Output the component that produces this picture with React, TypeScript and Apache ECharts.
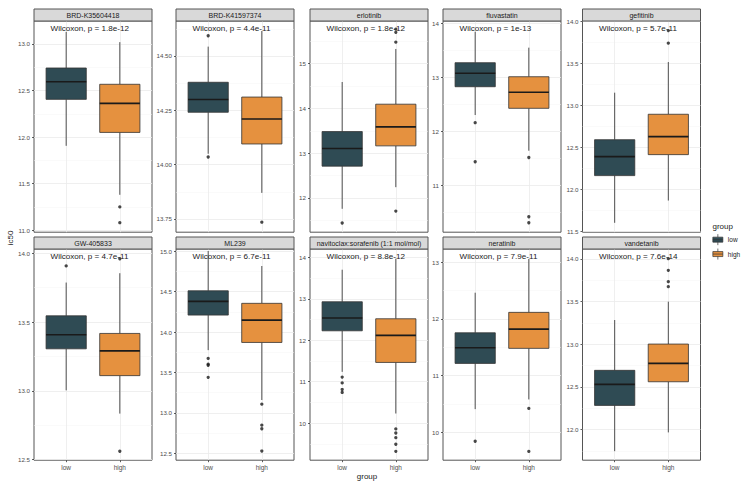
import React, { useEffect, useRef } from 'react';
import * as echarts from 'echarts';

// ---------- data ----------
const drugs = [
  'BRD-K35604418',
  'BRD-K41597374',
  'erlotinib',
  'fluvastatin',
  'gefitinib',
  'GW-405833',
  'ML239',
  'navitoclax:sorafenib (1:1 mol/mol)',
  'neratinib',
  'vandetanib',
];
const pLabels = ['1.8e-12', '4.4e-11', '1.8e-12', '1e-13', '5.7e-11', '4.7e-11', '6.7e-11', '8.8e-12', '7.9e-11', '7.6e-14'];
const groups = ['low', 'high'];

// [lower whisker, Q1, median, Q3, upper whisker]
const lowStats = [
  [11.906, 12.405, 12.595, 12.742, 13.13],
  [14.05, 14.241, 14.3, 14.379, 14.543],
  [11.757, 12.71, 13.103, 13.482, 14.59],
  [12.305, 12.828, 13.076, 13.272, 13.845],
  [11.6, 12.162, 12.388, 12.59, 13.15],
  [13.003, 13.305, 13.407, 13.545, 13.787],
  [13.776, 14.209, 14.378, 14.509, 15.0],
  [11.237, 12.227, 12.534, 12.927, 13.7],
  [10.407, 11.215, 11.49, 11.755, 12.463],
  [11.746, 12.283, 12.529, 12.694, 13.284],
];
const highStats = [
  [11.38, 12.05, 12.362, 12.567, 13.02],
  [13.87, 14.095, 14.21, 14.311, 14.615],
  [12.24, 13.163, 13.587, 14.094, 15.328],
  [11.645, 12.429, 12.725, 13.013, 13.55],
  [11.865, 12.412, 12.626, 12.893, 13.515],
  [12.834, 13.11, 13.29, 13.417, 13.855],
  [13.16, 13.871, 14.147, 14.354, 14.815],
  [10.232, 11.464, 12.116, 12.517, 13.966],
  [10.578, 11.48, 11.82, 12.116, 13.06],
  [11.966, 12.56, 12.776, 13.002, 13.499],
];
const lowOutliers = [
  [],
  [14.035, 14.593],
  [11.44],
  [12.163, 11.442],
  [],
  [13.908],
  [13.674, 13.603, 13.59, 13.44],
  [11.11, 10.97, 10.81, 10.74],
  [9.84],
  [],
];
const highOutliers = [
  [11.25, 11.08],
  [13.735],
  [15.77, 15.7, 15.48, 11.706],
  [11.52, 10.425, 10.314],
  [13.89, 13.74],
  [13.96, 12.56],
  [13.109, 12.85, 12.805, 12.53],
  [9.86, 9.763, 9.65, 9.49, 9.32],
  [10.42, 9.66],
  [14.004, 13.867, 13.734, 13.675],
];
const yMin = [10.978, 13.689, 11.234, 10.139, 11.488, 12.495, 12.417, 9.106, 9.505, 11.64];
const yMax = [13.247, 14.661, 15.953, 14.043, 14.004, 14.031, 15.025, 14.2, 13.235, 14.117];
const yTicks = [
  [11.0, 11.5, 12.0, 12.5, 13.0],
  [13.75, 14.0, 14.25, 14.5],
  [12, 13, 14, 15],
  [11, 12, 13, 14],
  [11.5, 12.0, 12.5, 13.0, 13.5, 14.0],
  [12.5, 13.0, 13.5, 14.0],
  [12.5, 13.0, 13.5, 14.0, 14.5, 15.0],
  [10, 11, 12, 13, 14],
  [10, 11, 12, 13],
  [12.0, 12.5, 13.0, 13.5, 14.0],
];
const yDecimals = [1, 2, 0, 0, 1, 1, 1, 0, 0, 1];

// ---------- styling / layout ----------
const LOW_COLOR = '#2F4B54';
const HIGH_COLOR = '#E5913F';
const BORDER = '#555555';
const TEXT = '#222222';
const FONT = "'Liberation Sans', Arial, Helvetica, sans-serif";
const COL_LEFT = [34, 176, 310, 443, 582.5];
const ROW_TOP = [21, 249];
const PANEL_W = 118;
const PANEL_H = 211.2;
const STRIP_H = 12;

function minorValues(ticks: number[], min: number, max: number) {
  const step = ticks.length > 1 ? ticks[1] - ticks[0] : 1;
  const out: number[] = [];
  let v = ticks[0] - step / 2;
  while (v - step > min) v -= step;
  for (; v <= max + 1e-9; v += step) {
    if (v >= min) out.push(Number(v.toFixed(4)));
  }
  return out;
}

function renderBox(params: any, api: any) {
  const x = api.value(0);
  const lo = api.coord([x, api.value(1)]);
  const q1 = api.coord([x, api.value(2)]);
  const med = api.coord([x, api.value(3)]);
  const q3 = api.coord([x, api.value(4)]);
  const hi = api.coord([x, api.value(5)]);
  const w = api.size([0.75, 0])[0];
  const color = api.visual('color');
  const cx = med[0];
  return {
    type: 'group',
    children: [
      { type: 'line', shape: { x1: cx, y1: lo[1], x2: cx, y2: q1[1] }, style: { stroke: '#3a3a3a', lineWidth: 0.9 } },
      { type: 'line', shape: { x1: cx, y1: q3[1], x2: cx, y2: hi[1] }, style: { stroke: '#3a3a3a', lineWidth: 0.9 } },
      {
        type: 'rect',
        shape: { x: cx - w / 2, y: q3[1], width: w, height: q1[1] - q3[1] },
        style: { fill: color, stroke: '#333333', lineWidth: 0.8 },
      },
      { type: 'line', shape: { x1: cx - w / 2, y1: med[1], x2: cx + w / 2, y2: med[1] }, style: { stroke: '#1A1A1A', lineWidth: 1.6 } },
    ],
  };
}

function textStyle(text: string, size: number, align: string) {
  return { text, fontSize: size, fill: TEXT, fontFamily: FONT, fontWeight: 'normal', align, verticalAlign: 'middle' };
}

function buildOption() {
  const grid: any[] = [];
  const xAxis: any[] = [];
  const yAxis: any[] = [];
  const series: any[] = [];
  const graphic: any[] = [];

  drugs.forEach((name, i) => {
    const row = Math.floor(i / 5);
    const col = i % 5;
    const left = COL_LEFT[col];
    const top = ROW_TOP[row];
    const bottomRow = row === 1;
    grid.push({
      left, top, width: PANEL_W, height: PANEL_H,
      show: true, backgroundColor: '#ffffff', borderColor: BORDER, borderWidth: 1, containLabel: false,
    });
    xAxis.push({
      type: 'value', gridIndex: i, min: 0.4, max: 2.6,
      axisLine: { show: false },
      axisTick: { show: bottomRow, customValues: [1, 2], length: 2, lineStyle: { color: '#333', width: 0.8 } },
      axisLabel: {
        show: bottomRow, customValues: [1, 2],
        formatter: (v: number) => groups[Math.round(v) - 1] ?? '',
        fontSize: 6.5, color: '#4D4D4D', margin: 3.5, fontFamily: FONT,
      },
      splitLine: { show: true, lineStyle: { color: '#EBEBEB', width: 0.8 } },
    });
    const ticks = yTicks[i];
    const dec = yDecimals[i];
    yAxis.push({
      type: 'value', gridIndex: i, min: yMin[i], max: yMax[i],
      axisLine: { show: false },
      axisTick: { show: true, customValues: ticks, length: 2, lineStyle: { color: '#333', width: 0.8 } },
      axisLabel: {
        customValues: ticks, formatter: (v: number) => v.toFixed(dec),
        fontSize: 6.2, color: '#4D4D4D', margin: 4, fontFamily: FONT,
      },
      splitLine: { show: true, lineStyle: { color: '#EBEBEB', width: 0.8 } },
    });
    yAxis.push({
      type: 'value', gridIndex: i, min: yMin[i], max: yMax[i],
      axisLine: { show: false },
      axisTick: { show: false, customValues: minorValues(ticks, yMin[i], yMax[i]) },
      axisLabel: { show: false },
      splitLine: { show: true, lineStyle: { color: '#F5F5F5', width: 0.5 } },
    });

    series.push({
      type: 'custom', name: 'low', xAxisIndex: i, yAxisIndex: 2 * i,
      itemStyle: { color: LOW_COLOR }, renderItem: renderBox,
      encode: { x: 0, y: [1, 2, 3, 4, 5] },
      data: [[1, ...lowStats[i]]], silent: true, z: 2,
    });
    series.push({
      type: 'custom', name: 'high', xAxisIndex: i, yAxisIndex: 2 * i,
      itemStyle: { color: HIGH_COLOR }, renderItem: renderBox,
      encode: { x: 0, y: [1, 2, 3, 4, 5] },
      data: [[2, ...highStats[i]]], silent: true, z: 2,
    });
    series.push({
      type: 'scatter', name: 'outlier-low', xAxisIndex: i, yAxisIndex: 2 * i,
      data: lowOutliers[i].map((v) => [1, v]), symbolSize: 3.3,
      itemStyle: { color: '#1A1A1A' }, silent: true, z: 3,
    });
    series.push({
      type: 'scatter', name: 'outlier-high', xAxisIndex: i, yAxisIndex: 2 * i,
      data: highOutliers[i].map((v) => [2, v]), symbolSize: 3.3,
      itemStyle: { color: '#1A1A1A' }, silent: true, z: 3,
    });

    // facet strip
    graphic.push({
      type: 'rect', silent: true, z: 10,
      shape: { x: left, y: top - STRIP_H, width: PANEL_W, height: STRIP_H },
      style: { fill: '#D9D9D9', stroke: BORDER, lineWidth: 1 },
    });
    graphic.push({
      type: 'text', silent: true, z: 11,
      x: left + PANEL_W / 2, y: top - STRIP_H / 2,
      style: { ...textStyle(name, 7, 'center'), fill: '#1A1A1A' },
    });
    // test label
    graphic.push({
      type: 'text', silent: true, z: 11,
      x: left + 16.5, y: top + 7.4,
      style: textStyle('Wilcoxon, p = ' + pLabels[i], 8.1, 'left'),
    });
  });

  graphic.push({ type: 'text', silent: true, x: 367, y: 476, style: textStyle('group', 8, 'center') });
  graphic.push({ type: 'text', silent: true, x: 10.5, y: 238, rotation: Math.PI / 2, style: textStyle('ic50', 8, 'center') });
  graphic.push({ type: 'text', silent: true, x: 712.5, y: 226.7, style: textStyle('group', 8, 'left') });

  const icon = 'path://M5,0V3M5,8V11M0,3H10V8H0ZM0,5.5H10';
  return {
    animation: false,
    backgroundColor: '#ffffff',
    textStyle: { fontFamily: FONT },
    grid, xAxis, yAxis, series, graphic,
    legend: {
      data: [
        { name: 'low', icon, itemStyle: { color: LOW_COLOR, borderColor: '#333', borderWidth: 0.7 } },
        { name: 'high', icon, itemStyle: { color: HIGH_COLOR, borderColor: '#333', borderWidth: 0.7 } },
      ],
      orient: 'vertical', left: 712.5, top: 233.8, itemWidth: 10, itemHeight: 11, itemGap: 2.7,
      padding: 0, selectedMode: false,
      textStyle: { fontSize: 6.5, color: '#1A1A1A', fontFamily: FONT },
    },
  };
}

export default function App() {
  const ref = useRef<HTMLDivElement>(null);
  useEffect(() => {
    if (!ref.current) return;
    const chart = echarts.init(ref.current, null, { renderer: 'svg' });
    chart.setOption(buildOption() as any);
    return () => chart.dispose();
  }, []);
  return (
    <div
      ref={ref}
      style={{ position: 'absolute', left: 0, top: 0, width: 750, height: 483, background: '#fff' }}
    />
  );
}
